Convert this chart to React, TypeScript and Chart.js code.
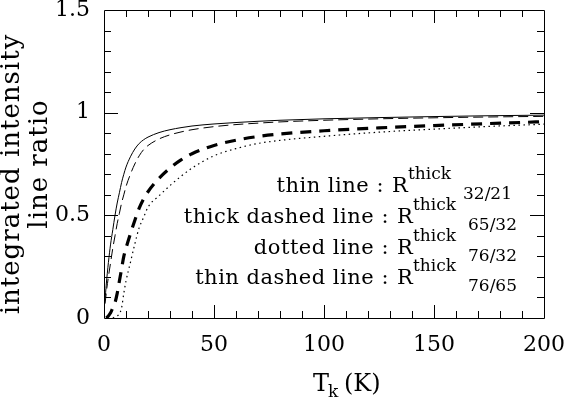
import React, { useEffect, useRef } from 'react';
import { Chart, registerables } from 'chart.js';

Chart.register(...registerables);

// Kinetic temperature grid (K)
const temperatures = [0.5, 1, 2, 3, 4, 5, 6, 7, 8, 9, 10, 12, 14, 16, 18, 20, 25, 30, 35, 40, 50, 60, 70, 80, 100, 125, 150, 175, 200];

// thin line : R(32/21)
const ratio3221 = [0.09, 0.16, 0.27, 0.36, 0.43, 0.50, 0.56, 0.61, 0.66, 0.70, 0.735, 0.785, 0.823, 0.85, 0.868, 0.881, 0.903, 0.917, 0.927, 0.935, 0.945, 0.952, 0.958, 0.963, 0.970, 0.976, 0.981, 0.985, 0.988];
// thin dashed line : R(76/65)
const ratio7665 = [0.07, 0.12, 0.20, 0.27, 0.34, 0.40, 0.46, 0.51, 0.56, 0.60, 0.64, 0.70, 0.75, 0.79, 0.82, 0.84, 0.872, 0.892, 0.906, 0.917, 0.932, 0.942, 0.949, 0.955, 0.963, 0.970, 0.975, 0.979, 0.982];
// thick dashed line : R(65/32)
const ratio6532 = [null, 0, 0.01, 0.025, 0.05, 0.075, 0.12, 0.18, 0.24, 0.30, 0.34, 0.41, 0.475, 0.535, 0.58, 0.615, 0.68, 0.73, 0.77, 0.80, 0.84, 0.866, 0.884, 0.896, 0.912, 0.926, 0.937, 0.947, 0.956];
// dotted line : R(76/32)
const ratio7632 = [null, null, null, null, 0, 0.005, 0.01, 0.02, 0.05, 0.12, 0.18, 0.27, 0.36, 0.44, 0.49, 0.54, 0.595, 0.645, 0.69, 0.73, 0.79, 0.825, 0.85, 0.865, 0.885, 0.905, 0.92, 0.933, 0.944];

const legendNames = ['thin line :', 'thick dashed line :', 'dotted line :', 'thin dashed line :'];
const legendSubscripts = ['32/21', '65/32', '76/32', '76/65'];
const yTitleLines = ['integrated intensity', 'line ratio'];

const SERIF = "'DejaVu Serif', serif";

const toPoints = (vals: (number | null)[]) => temperatures.map((t, i) => ({ x: t, y: vals[i] }));

const frameTicksPlugin = {
  id: 'frameTicks',
  afterDatasetsDraw(chart: any) {
    const { ctx, chartArea, scales } = chart;
    const { left, right, top, bottom } = chartArea;
    const xs = scales.x;
    const ys = scales.y;
    ctx.save();
    ctx.strokeStyle = '#000';
    ctx.lineWidth = 1;
    ctx.beginPath();
    ctx.rect(Math.round(left) + 0.5, Math.round(top) + 0.5, Math.round(right - left), Math.round(bottom - top));
    ctx.stroke();
    ctx.beginPath();
    for (let i = 1; i < 20; i++) {
      const px = Math.round(xs.getPixelForValue(i * 10)) + 0.5;
      const len = i % 5 === 0 ? 13 : 7;
      ctx.moveTo(px, bottom);
      ctx.lineTo(px, bottom - len);
      ctx.moveTo(px, top);
      ctx.lineTo(px, top + len);
    }
    for (let i = 1; i < 15; i++) {
      const py = Math.round(ys.getPixelForValue(i / 10)) + 0.5;
      const len = i % 5 === 0 ? 14 : 7;
      ctx.moveTo(left, py);
      ctx.lineTo(left + len, py);
      ctx.moveTo(right, py);
      ctx.lineTo(right - len, py);
    }
    ctx.stroke();
    ctx.restore();
  },
  afterDraw(chart: any) {
    const { ctx } = chart;
    ctx.save();
    ctx.fillStyle = '#000';
    // legend text
    const rX = [392, 397, 397, 397];
    const rBase = [192, 223, 254, 284];
    for (let i = 0; i < 4; i++) {
      ctx.font = `21px ${SERIF}`;
      (ctx as any).letterSpacing = '0.5px';
      ctx.textAlign = 'right';
      ctx.textBaseline = 'alphabetic';
      ctx.fillText(legendNames[i], rX[i] - 8, rBase[i]);
      (ctx as any).letterSpacing = '0px';
      ctx.textAlign = 'left';
      ctx.fillText('R', rX[i], rBase[i]);
      ctx.font = `17px ${SERIF}`;
      ctx.fillText('thick', rX[i] + 16, rBase[i] - 13);
      ctx.fillText(legendSubscripts[i], rX[i] + 71, rBase[i] + 7);
    }
    // x title
    ctx.textAlign = 'left';
    ctx.font = `24px ${SERIF}`;
    ctx.fillText('T', 313, 391);
    ctx.font = `17px ${SERIF}`;
    ctx.fillText('k', 328, 397);
    ctx.font = `24px ${SERIF}`;
    ctx.fillText('(K)', 344, 391);
    // y title
    ctx.font = `26px ${SERIF}`;
    (ctx as any).letterSpacing = '1px';
    ctx.textAlign = 'center';
    ctx.save();
    ctx.translate(19, 174);
    ctx.rotate(-Math.PI / 2);
    ctx.fillText(yTitleLines[0], 0, 0);
    ctx.restore();
    ctx.save();
    ctx.translate(47, 164);
    ctx.rotate(-Math.PI / 2);
    ctx.fillText(yTitleLines[1], 0, 0);
    ctx.restore();
    (ctx as any).letterSpacing = '0px';
    ctx.restore();
  },
};

export default function App() {
  const canvasRef = useRef<HTMLCanvasElement | null>(null);

  useEffect(() => {
    document.body.style.margin = '0';
    const canvas = canvasRef.current;
    if (!canvas) return;
    const tickFont = { family: SERIF, size: 22 };
    const chart = new Chart(canvas, {
      type: 'line',
      data: {
        datasets: [
          { label: 'R32/21', data: toPoints(ratio3221), borderColor: '#000', borderWidth: 1, pointRadius: 0, fill: false, cubicInterpolationMode: 'monotone' },
          { label: 'R76/65', data: toPoints(ratio7665), borderColor: '#000', borderWidth: 1, borderDash: [10, 5], pointRadius: 0, fill: false, cubicInterpolationMode: 'monotone' },
          { label: 'R65/32', data: toPoints(ratio6532), borderColor: '#000', borderWidth: 3.2, borderDash: [11, 8], pointRadius: 0, fill: false, cubicInterpolationMode: 'monotone' },
          { label: 'R76/32', data: toPoints(ratio7632), borderColor: '#000', borderWidth: 1.2, borderDash: [1.5, 3.5], pointRadius: 0, fill: false, cubicInterpolationMode: 'monotone' },
        ] as any,
      },
      options: {
        responsive: false,
        animation: false,
        layout: { padding: { top: 10, right: 20, left: 0, bottom: 0 } },
        plugins: { legend: { display: false }, tooltip: { enabled: false } },
        scales: {
          x: {
            type: 'linear',
            min: 0,
            max: 200,
            border: { display: false },
            grid: { display: false, drawTicks: false },
            ticks: { stepSize: 50, font: tickFont, color: '#000', padding: 14, maxRotation: 0, autoSkip: false },
            afterFit: (s: any) => { s.height = 80; s.paddingLeft = 0; s.paddingRight = 0; },
          },
          y: {
            type: 'linear',
            min: 0,
            max: 1.5,
            border: { display: false },
            grid: { display: false, drawTicks: false },
            ticks: { stepSize: 0.5, font: tickFont, color: '#000', padding: 14, callback: (v: any) => String(Number(v)) },
            afterFit: (s: any) => { s.width = 104; s.paddingTop = 0; s.paddingBottom = 0; },
          },
        },
      } as any,
      plugins: [frameTicksPlugin],
    });
    return () => chart.destroy();
  }, []);

  return <canvas ref={canvasRef} width={564} height={398} style={{ display: 'block' }} />;
}
